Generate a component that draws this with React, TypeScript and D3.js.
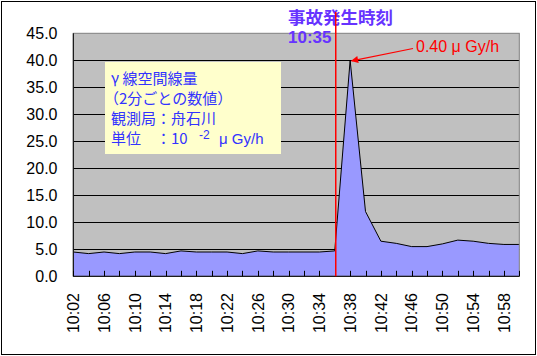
import React from "react";
import * as d3 from "d3";

// ---- data ----
const categories: string[] = [
  "10:02", "10:04", "10:06", "10:08", "10:10", "10:12", "10:14", "10:16", "10:18", "10:20",
  "10:22", "10:24", "10:26", "10:28", "10:30", "10:32", "10:34", "10:36", "10:38", "10:40",
  "10:42", "10:44", "10:46", "10:48", "10:50", "10:52", "10:54", "10:56", "10:58", "11:00",
];
const doseValues: number[] = [
  4.5, 4.2, 4.5, 4.2, 4.5, 4.5, 4.2, 4.7, 4.5, 4.5,
  4.5, 4.2, 4.7, 4.5, 4.5, 4.5, 4.5, 4.7, 40.0, 12.0,
  6.5, 6.1, 5.5, 5.5, 6.0, 6.7, 6.5, 6.1, 5.9, 5.9,
];
const yTicks: number[] = [0, 5, 10, 15, 20, 25, 30, 35, 40, 45];
const eventCategory = "10:36";
const peakCategory = "10:38";
const titleLines = ["事故発生時刻", "10:35"];
const peakLabel = "0.40 μ Gy/h";
const boxLines = ["γ 線空間線量", "（2分ごとの数値）", "観測局：舟石川"];
const unitPrefix = "単位　：10";
const unitExp = "-2";
const unitSuffix = "μ Gy/h";

const W = 537;
const H = 356;
const plot = { left: 73.3, right: 519.3, top: 33.3, bottom: 276.3 };

export default function App() {
  const x = d3.scalePoint<string>().domain(categories).range([plot.left, plot.right]);
  const y = d3.scaleLinear().domain([0, 45]).range([plot.bottom, plot.top]);
  const pts = categories.map((c, i) => ({ c, v: doseValues[i] }));
  const area = d3
    .area<{ c: string; v: number }>()
    .x((d) => x(d.c)!)
    .y0(y(0))
    .y1((d) => y(d.v));
  const line = d3
    .line<{ c: string; v: number }>()
    .x((d) => x(d.c)!)
    .y((d) => y(d.v));

  const peakIdx = categories.indexOf(peakCategory);
  const peakX = x(peakCategory)! + 1.5;
  const peakY = y(doseValues[peakIdx]) + 0.5;
  const ex = x(eventCategory)!;

  const latin = "'Liberation Sans', Arial, sans-serif";
  const cjk = "'Noto Sans CJK JP', sans-serif";

  return (
    <svg
      width={W}
      height={H}
      style={{ position: "absolute", left: 0, top: 0, background: "#fff" }}
    >
      <defs>
        <marker id="arr" viewBox="0 0 10 10" refX="9" refY="5" markerWidth="7" markerHeight="6" orient="auto">
          <path d="M0,0 L10,5 L0,10 z" fill="#FF0000" />
        </marker>
      </defs>
      <rect x={1.5} y={1.5} width={534} height={353} fill="#fff" stroke="#000" strokeWidth={1} />
      {/* plot area */}
      <rect
        x={plot.left}
        y={plot.top}
        width={plot.right - plot.left}
        height={plot.bottom - plot.top}
        fill="#C0C0C0"
      />
      {yTicks
        .filter((t) => t > 0 && t < 45)
        .map((t) => (
          <line key={t} x1={plot.left} x2={plot.right} y1={Math.round(y(t)) + 0.5} y2={Math.round(y(t)) + 0.5} stroke="#000" strokeWidth={1} />
        ))}
      <path d={area(pts)!} fill="#9999FF" />
      <path d={line(pts)!} fill="none" stroke="#000" strokeWidth={1} />
      {/* plot border */}
      <rect
        x={plot.left}
        y={plot.top}
        width={plot.right - plot.left}
        height={plot.bottom - plot.top}
        fill="none"
        stroke="#808080"
        strokeWidth={1}
      />
      {/* axes */}
      <line x1={plot.left} x2={plot.left} y1={plot.top} y2={plot.bottom} stroke="#000" strokeWidth={1} />
      <line x1={plot.left} x2={plot.right} y1={plot.bottom} y2={plot.bottom} stroke="#000" strokeWidth={1} />
      {categories.map((c) => (
        <line key={c} x1={Math.round(x(c)!) + 0.5} x2={Math.round(x(c)!) + 0.5} y1={plot.bottom} y2={plot.bottom - 5.5} stroke="#000" strokeWidth={1} />
      ))}
      {yTicks.map((t) => (
        <text key={t} x={57.5} y={y(t)} dy="0.36em" textAnchor="end" fontFamily={latin} fontSize={16} fill="#000">
          {t.toFixed(1)}
        </text>
      ))}
      {categories.map((c, i) =>
        i % 2 === 0 ? (
          <text
            key={c}
            transform={`translate(${x(c)},293) rotate(-90)`}
            dy="0.36em"
            textAnchor="end"
            fontFamily={latin}
            fontSize={16}
            fill="#000"
          >
            {c}
          </text>
        ) : null
      )}
      {/* title */}
      <text x={288} y={24} fontFamily={cjk} fontWeight="bold" fontSize={17.5} fill="#6633FF">
        {titleLines[0]}
      </text>
      <text x={288} y={43} fontFamily={latin} fontWeight="bold" fontSize={17} fill="#6633FF">
        {titleLines[1]}
      </text>
      {/* event line */}
      <rect x={Math.round(ex)} y={12} width={1.5} height={plot.bottom - 12} fill="#FF0000" />
      {/* peak annotation */}
      <text x={416} y={52} fontFamily={latin} fontSize={16} fill="#FF0000">
        {peakLabel}
      </text>
      <line x1={413} y1={48.5} x2={peakX} y2={peakY} stroke="#FF0000" strokeWidth={1.2} markerEnd="url(#arr)" />
      {/* info box */}
      <rect x={105} y={62} width={176} height={92} fill="#FFFFCC" />
      {boxLines.map((s, i) => (
        <text key={i} x={i === 1 ? 104 : 111} y={84 + i * 20} fontFamily={cjk} fontSize={15} fill="#3333FF">
          {s}
        </text>
      ))}
      <text x={111} y={144} fontFamily={cjk} fontSize={15} fill="#3333FF">
        <tspan>{unitPrefix}</tspan>
        <tspan x={199} dy={-5} fontFamily={latin} fontSize={12}>{unitExp}</tspan>
        <tspan x={219} dy={5} fontFamily={latin} fontSize={15}>{unitSuffix}</tspan>
      </text>
    </svg>
  );
}
